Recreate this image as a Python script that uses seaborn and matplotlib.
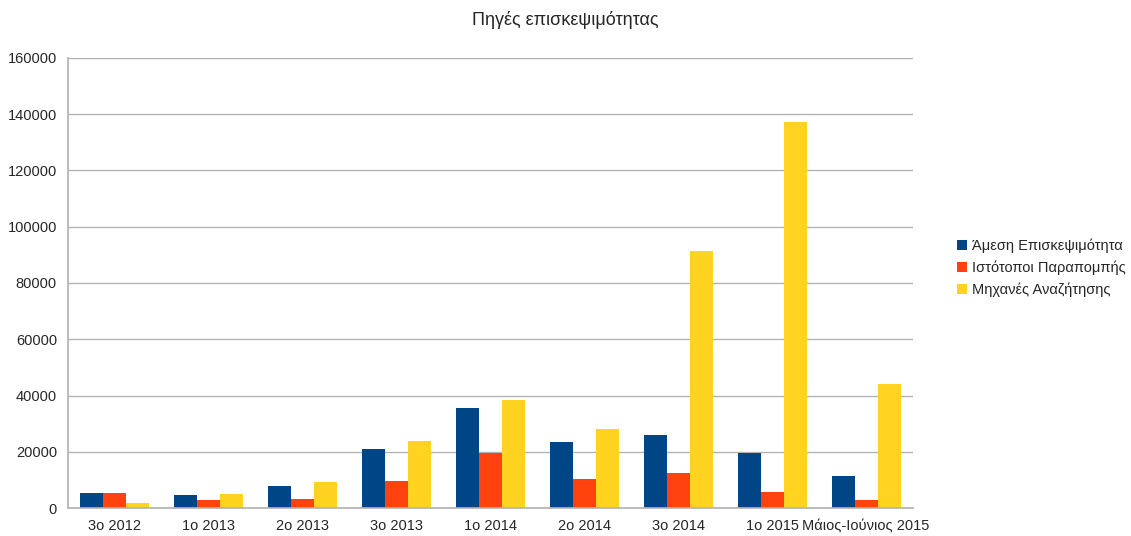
import pandas as pd
import seaborn as sns
import matplotlib.pyplot as plt
import numpy as np

# === Data ===
periods = ["3ο 2012", "1ο 2013", "2ο 2013", "3ο 2013", "1ο 2014",
           "2ο 2014", "3ο 2014", "1ο 2015", "Μάιος-Ιούνιος 2015"]
series = ["Άμεση Επισκεψιμότητα", "Ιστότοποι Παραπομπής", "Μηχανές Αναζήτησης"]
direct = [5200, 4500, 7700, 20850, 35400, 23350, 25800, 19400, 11250]
referral = [5200, 2700, 3100, 9500, 19400, 10200, 12300, 5600, 2700]
search = [1650, 4850, 9100, 23700, 38250, 27950, 91250, 137100, 44000]

df = pd.DataFrame({"period": periods, series[0]: direct,
                   series[1]: referral, series[2]: search})
df_long = df.melt(id_vars="period", var_name="source", value_name="visits")

colors = ["#004586", "#ff420e", "#ffd320"]

# === Plot ===
sns.set_theme(style="white")
plt.rcParams["font.family"] = ["Liberation Sans", "DejaVu Sans"]

fig = plt.figure(figsize=(11.31, 5.36), dpi=100)
ax = fig.add_axes([68 / 1131, 1 - 508 / 536, 845 / 1131, 450 / 536])

sns.barplot(data=df_long, x="period", y="visits", hue="source",
            order=periods, hue_order=series, palette=colors,
            width=0.735, gap=0, saturation=1, linewidth=0,
            ax=ax, legend=True)

ax.set_ylim(0, 160000)
ax.set_xlim(-0.5, len(periods) - 0.5)
ax.set_yticks(np.arange(0, 160001, 20000))
ax.yaxis.grid(True, color="#b3b3b3", linewidth=1)
ax.set_axisbelow(True)
ax.set_xlabel("")
ax.set_ylabel("")

for side in ["top", "right"]:
    ax.spines[side].set_visible(False)
for side in ["left", "bottom"]:
    ax.spines[side].set_color("#b3b3b3")

ax.tick_params(axis="y", length=5, color="#b3b3b3", labelsize=10.5, pad=3)
ax.tick_params(axis="x", which="major", length=0, labelsize=10.5, pad=8)
ax.set_xticks(np.arange(-0.5, len(periods)), minor=True)
ax.tick_params(axis="x", which="minor", length=5, color="#b3b3b3")

fig.suptitle("Πηγές επισκεψιμότητας", x=0.5, y=1 - 20 / 536,
             fontsize=13, va="center")

handles, labels = ax.get_legend_handles_labels()
ax.legend_.remove()
fig.legend(handles, labels, loc="center left",
           bbox_to_anchor=(944 / 1131, 1 - 268 / 536), frameon=False,
           fontsize=10.5, handlelength=0.7, handleheight=0.7,
           handletextpad=0.35, labelspacing=0.5)

fig.savefig("out.png", dpi=100)
